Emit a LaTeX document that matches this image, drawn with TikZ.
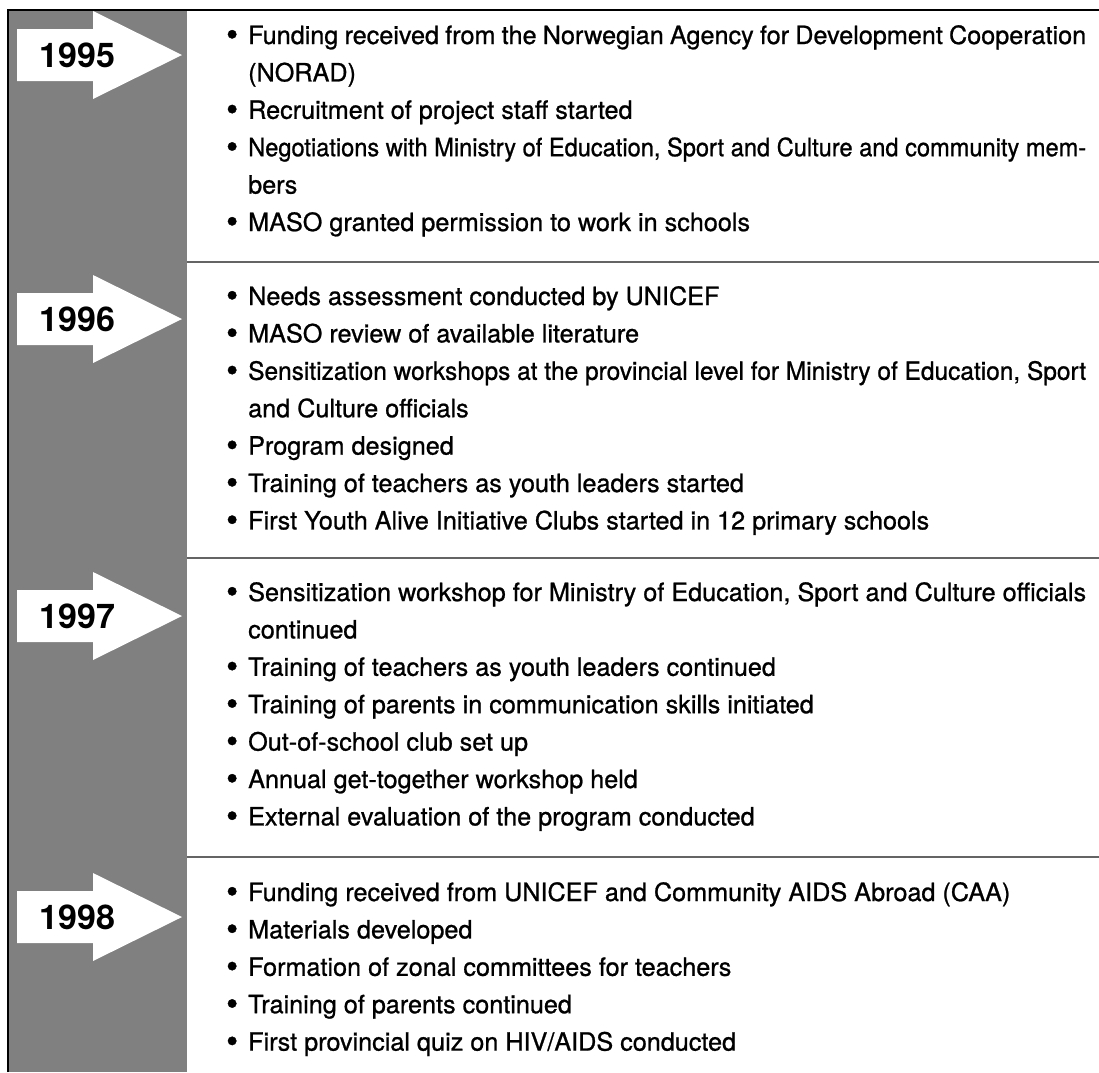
\documentclass[tikz,border=0pt]{standalone}
\usepackage{fontspec}
\usepackage{graphicx}
\setmainfont{TeX Gyre Heros}
\newfontfamily\bodyfont{TeX Gyre Heros}[FakeBold=0.9]
\definecolor{colgray}{RGB}{128,128,128}
\definecolor{rulegray}{RGB}{100,100,100}
% bullet box and justified first line of a wrapped entry
\newcommand{\bul}{\makebox[22pt][l]{\raisebox{-0.08em}{\scalebox{1.35}{\textbullet}}}}
\newsavebox{\linebox}
\newcommand{\jline}[1]{%
  \sbox{\linebox}{#1}%
  \ifdim\wd\linebox>860pt
    \resizebox{838pt}{\height}{\usebox{\linebox}}%
  \else
    \makebox[838pt][s]{#1}%
  \fi}
\tikzset{
  itemline/.style={anchor=base west, inner sep=0pt, font=\bodyfont\fontsize{25.2}{30}\selectfont},
  yearlabel/.style={anchor=base, inner sep=0pt, font=\fontsize{34}{40}\selectfont\bfseries},
  divider/.style={draw=rulegray, line width=2pt},
  frameline/.style={draw=black, line width=2pt},
  yeararrow/.pic={\fill[white] (-60,-26) -- (16,-26) -- (16,-44) -- (105,0) -- (16,44) -- (16,26) -- (-60,26) -- cycle;}
}
\begin{document}
\begin{tikzpicture}[x=1pt,y=-1pt]
\useasboundingbox (0,0) rectangle (1099,1072);
\fill[white] (0,0) rectangle (1099,1072);
% year column
\fill[colgray] (9,11) rectangle (187,1072);
\draw[frameline] (8,1072) -- (8,10) -- (1099,10);
% dividers between years
\draw[divider] (187,262) -- (1099,262);
\draw[divider] (187,558) -- (1099,558);
\draw[divider] (187,857) -- (1099,857);

% year arrows and labels
\pic at (77,55) {yeararrow};
\node[yearlabel] (y1995) at (77.5,67) {1995};
\pic at (77,319) {yeararrow};
\node[yearlabel] (y1996) at (77.5,331) {1996};
\pic at (77,616) {yeararrow};
\node[yearlabel] (y1997) at (77.5,628) {1997};
\pic at (77,917) {yeararrow};
\node[yearlabel] (y1998) at (77.5,929) {1998};

% 1995
\node[itemline] (a1) at (226,44) {\bul\jline{Funding received from the Norwegian Agency for Development Cooperation}};
\node[itemline] (a1b) at (248,81.4) {(NORAD)};
\node[itemline] (a2) at (226,118.8) {\bul Recruitment of project staff started};
\node[itemline] (a3) at (226,156.2) {\bul\jline{Negotiations with Ministry of Education, Sport and Culture and community mem-}};
\node[itemline] (a3b) at (248,193.6) {bers};
\node[itemline] (a4) at (226,231) {\bul MASO granted permission to work in schools};

% 1996
\node[itemline] (b1) at (226,305) {\bul Needs assessment conducted by UNICEF};
\node[itemline] (b2) at (226,342.4) {\bul MASO review of available literature};
\node[itemline] (b3) at (226,379.8) {\bul\jline{Sensitization workshops at the provincial level for Ministry of Education, Sport}};
\node[itemline] (b3b) at (248,417.2) {and Culture officials};
\node[itemline] (b4) at (226,454.6) {\bul Program designed};
\node[itemline] (b5) at (226,492) {\bul Training of teachers as youth leaders started};
\node[itemline] (b6) at (226,529.4) {\bul First Youth Alive Initiative Clubs started in 12 primary schools};

% 1997
\node[itemline] (c1) at (226,601) {\bul\jline{Sensitization workshop for Ministry of Education, Sport and Culture officials}};
\node[itemline] (c1b) at (248,638.4) {continued};
\node[itemline] (c2) at (226,675.8) {\bul Training of teachers as youth leaders continued};
\node[itemline] (c3) at (226,713.2) {\bul Training of parents in communication skills initiated};
\node[itemline] (c4) at (226,750.6) {\bul Out-of-school club set up};
\node[itemline] (c5) at (226,788) {\bul Annual get-together workshop held};
\node[itemline] (c6) at (226,825.4) {\bul External evaluation of the program conducted};

% 1998
\node[itemline] (d1) at (226,901) {\bul Funding received from UNICEF and Community AIDS Abroad (CAA)};
\node[itemline] (d2) at (226,938.4) {\bul Materials developed};
\node[itemline] (d3) at (226,975.8) {\bul Formation of zonal committees for teachers};
\node[itemline] (d4) at (226,1013.2) {\bul Training of parents continued};
\node[itemline] (d5) at (226,1050.6) {\bul First provincial quiz on HIV/AIDS conducted};
\end{tikzpicture}
\end{document}
